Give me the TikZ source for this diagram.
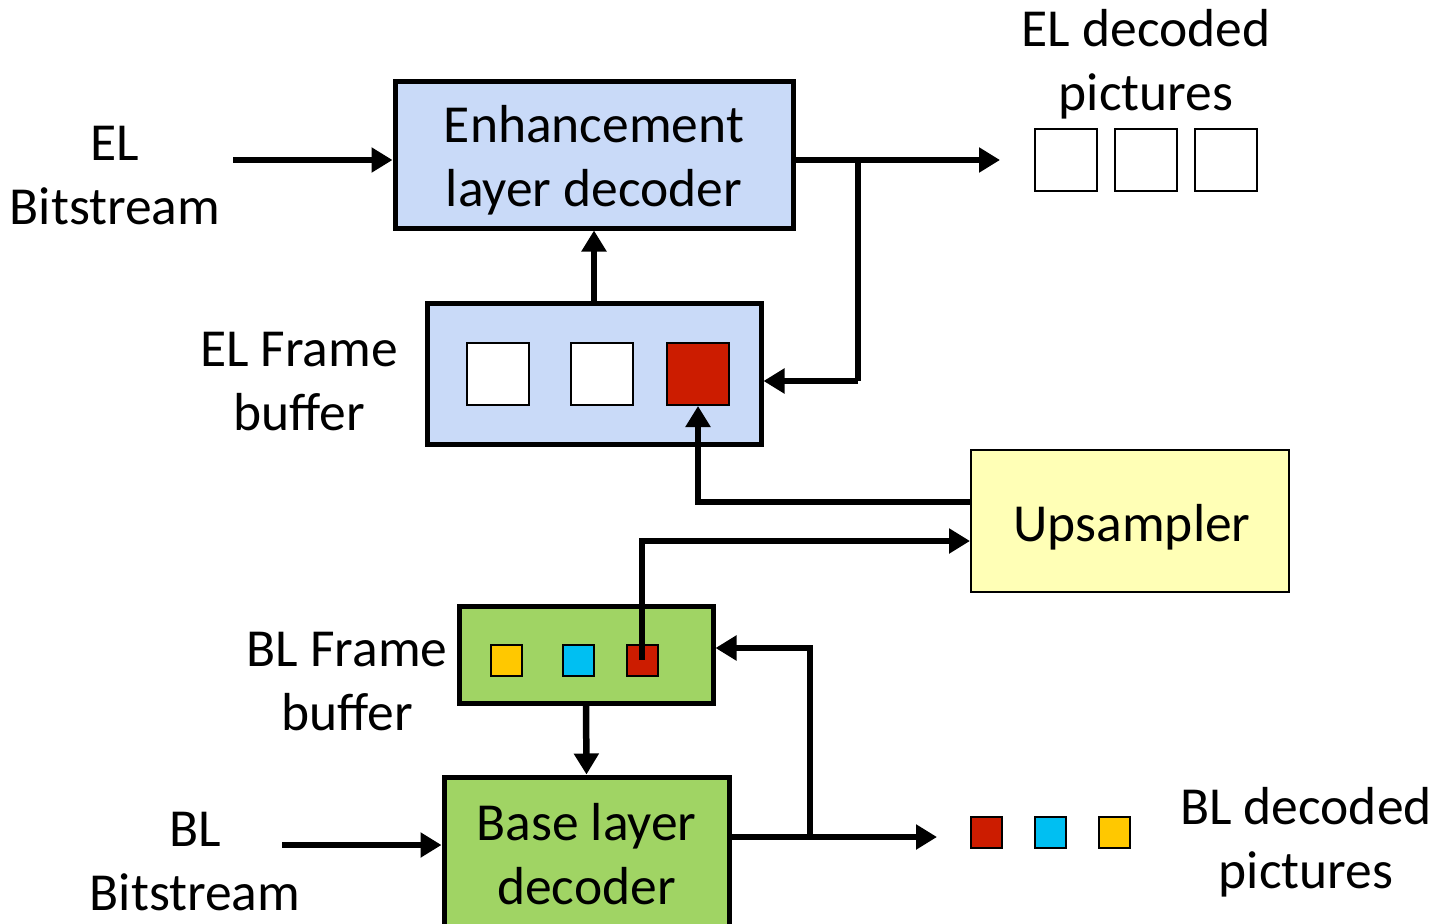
\documentclass[tikz,border=0pt]{standalone}
\usepackage{fontspec}
\setmainfont{Carlito}
\usetikzlibrary{arrows.meta}
\definecolor{elblue}{RGB}{201,218,248}
\definecolor{blgreen}{RGB}{160,212,100}
\definecolor{upyellow}{RGB}{255,255,182}
\definecolor{picred}{RGB}{204,28,0}
\definecolor{piccyan}{RGB}{0,191,242}
\definecolor{picyellow}{RGB}{255,200,0}
\begin{document}
\begin{tikzpicture}[x=1pt,y=-1pt,
  txt/.style={font=\fontsize{53.5}{64}\selectfont, align=center, inner sep=0pt},
  bigbox/.style={draw=black, line width=5pt, inner sep=0pt},
  pic/.style={draw=black, line width=2pt, inner sep=0pt, minimum width=62pt, minimum height=62pt},
  smallpic/.style={draw=black, line width=2pt, inner sep=0pt, minimum width=31pt, minimum height=31pt},
  arr/.style={line width=6.5pt, -{Triangle[length=21pt,width=24pt]}},
  ln/.style={line width=6.5pt}]
\clip (0,0) rectangle (1439,923);
\fill[white] (0,0) rectangle (1439,923);

% boxes
\node[bigbox, fill=elblue, minimum width=398pt, minimum height=146pt] (eld) at (594,155) {};
\node[txt] (eldt) at (594,160) {Enhancement\\layer decoder};
\node[bigbox, fill=elblue, minimum width=334pt, minimum height=141pt] (elfb) at (594,373.5) {};
\node[pic, fill=white] (es1) at (498,374) {};
\node[pic, fill=white] (es2) at (602,374) {};
\node[pic, fill=picred] (es3) at (698,374) {};
\node[bigbox, line width=2pt, fill=upyellow, minimum width=318pt, minimum height=142pt] (ups) at (1130,520.5) {};
\node[txt] (upst) at (1132,527) {Upsampler};
\node[bigbox, fill=blgreen, minimum width=254pt, minimum height=97pt] (blfb) at (586,654.5) {};
\node[smallpic, fill=picyellow] (bs1) at (506,660) {};
\node[smallpic, fill=piccyan] (bs2) at (578,660) {};
\node[smallpic, fill=picred] (bs3) at (642,660) {};
\node[bigbox, fill=blgreen, minimum width=285pt, minimum height=150pt] (bld) at (586.5,852) {};
\node[txt] (bldt) at (586.5,854) {Base layer\\decoder};

% EL decoded pictures
\node[pic, fill=white] (ep1) at (1066,160) {};
\node[pic, fill=white] (ep2) at (1146,160) {};
\node[pic, fill=white] (ep3) at (1226,160) {};
% BL decoded pictures
\node[smallpic, fill=picred] (bp1) at (986,832) {};
\node[smallpic, fill=piccyan] (bp2) at (1050,832) {};
\node[smallpic, fill=picyellow] (bp3) at (1114,832) {};

% labels
\node[txt] (lelbs) at (115,176) {EL\\Bitstream};
\node[txt] (lelfb) at (299,382) {EL Frame\\buffer};
\node[txt] (leldp) at (1146,64) {EL decoded\\pictures};
\node[txt] (lblfb) at (347,682) {BL Frame\\buffer};
\node[txt] (lblbs) at (195,862) {BL\\Bitstream};
\node[txt] (lbldp) at (1306,842) {BL decoded\\pictures};

% coordinates
\coordinate (elin) at (233,160);
\coordinate (elout) at (1000,160);
\coordinate (elbr) at (858,160);
\coordinate (elfbin) at (858,381);
\coordinate (blin) at (282,845);
\coordinate (blout) at (937,837);
\coordinate (blbr) at (810,837);

% connectors
\draw[arr] (elin) -- (elin -| eld.west);
\draw[arr] (elout -| eld.east) -- (elout);
\draw[ln] (elbr) -- (elfbin);
\draw[arr] (elfbin) -- (elfbin -| elfb.east);
\draw[arr] (elfb.north) -- (eld.south);
\draw[arr] ([yshift=18.5pt]ups.west) -| (es3.south);
\draw[arr] (bs3.center) |- ([yshift=-20.5pt]ups.west);
\draw[arr] (blfb.south) -- (bld.north);
\draw[arr] (blin) -- (blin -| bld.west);
\draw[arr] (blout -| bld.east) -- (blout);
\draw[arr] (blbr) |- ([yshift=6.5pt]blfb.east);
\end{tikzpicture}
\end{document}
